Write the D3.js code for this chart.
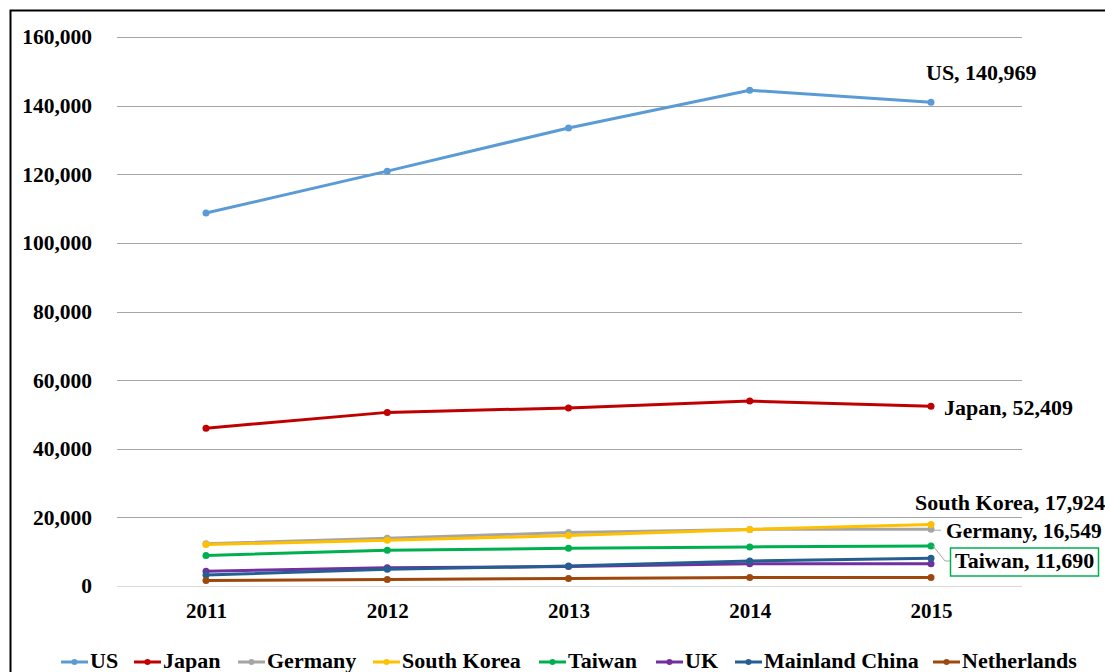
<!DOCTYPE html>
<html>
<head>
<meta charset="utf-8">
<script src="https://cdn.jsdelivr.net/npm/d3@7"></script>
<style>
  body { margin: 0; background: #fff; }
  svg text { font-family: "Liberation Serif", "Times New Roman", serif; font-weight: bold; fill: #000; }
</style>
</head>
<body>
<div id="chart"></div>
<script>
var width = 1105,
    height = 672;

var years = ["2011", "2012", "2013", "2014", "2015"];
var yTicks = [0, 20000, 40000, 60000, 80000, 100000, 120000, 140000, 160000];

var us = [108700, 120900, 133500, 144500, 140969];
var japan = [46000, 50600, 51900, 53900, 52409];
var germany = [12300, 13900, 15600, 16500, 16549];
var southKorea = [12100, 13300, 14700, 16500, 17924];
var taiwan = [8900, 10400, 11000, 11400, 11690];
var uk = [4300, 5300, 5700, 6500, 6500];
var china = [3200, 4900, 5800, 7300, 8100];
var netherlands = [1600, 1900, 2200, 2500, 2500];

var series = [
    {name: "US", color: "#5b9bd5", values: us},
    {name: "Japan", color: "#c00000", values: japan},
    {name: "Germany", color: "#a5a5a5", values: germany},
    {name: "South Korea", color: "#ffc000", values: southKorea},
    {name: "Taiwan", color: "#00b050", values: taiwan},
    {name: "UK", color: "#7030a0", values: uk},
    {name: "Mainland China", color: "#255e91", values: china},
    {name: "Netherlands", color: "#9e480e", values: netherlands}
];

var svg = d3.select("#chart").append("svg")
    .attr("width", width)
    .attr("height", height);

// outer chart border (runs off the right / bottom of the picture)
svg.append("rect")
    .attr("x", 10.5).attr("y", 10.5)
    .attr("width", 1200).attr("height", 700)
    .style("fill", "none")
    .style("stroke", "#000")
    .style("stroke-width", 2);

var x = d3.scalePoint().domain(years).range([206, 931]);
var y = d3.scaleLinear().domain([0, 160000]).range([586, 37]);

// gridlines
svg.selectAll(".grid")
    .data(yTicks)
    .enter()
    .append("line")
    .attr("x1", 117).attr("x2", 1022)
    .attr("y1", function (d) { return Math.round(y(d)) + 0.5; })
    .attr("y2", function (d) { return Math.round(y(d)) + 0.5; })
    .style("stroke", function (d) { return d === 0 ? "#d9d9d9" : "#a6a6a6"; })
    .style("stroke-width", 1);

var yAxis = svg.append("g")
    .attr("transform", "translate(97,0)")
    .call(d3.axisLeft(y).tickValues(yTicks).tickSize(0).tickPadding(5).tickFormat(d3.format(",")));
yAxis.select(".domain").remove();
yAxis.selectAll("text").attr("font-size", 21.5).style("font-family", null);

var xAxis = svg.append("g")
    .attr("transform", "translate(0,586)")
    .call(d3.axisBottom(x).tickSize(0).tickPadding(17));
xAxis.select(".domain").remove();
xAxis.selectAll("text").attr("font-size", 21).style("font-family", null);

var line = d3.line()
    .x(function (d, i) { return x(years[i]); })
    .y(function (d) { return y(d); });

// draw later series on top, like the original
series.forEach(function (s) {
    var g = svg.append("g");
    g.append("path")
        .attr("d", line(s.values))
        .style("fill", "none")
        .style("stroke", s.color)
        .style("stroke-width", 3)
        .style("stroke-linejoin", "round");
    g.selectAll("circle")
        .data(s.values)
        .enter()
        .append("circle")
        .attr("cx", function (d, i) { return x(years[i]); })
        .attr("cy", function (d) { return y(d); })
        .attr("r", 3.5)
        .style("fill", s.color);
});

// data labels at 2015
var last = x("2015");
var fmt = d3.format(",");
svg.append("text").attr("x", 926).attr("y", 80)
    .attr("font-size", 22)
    .text("US, " + fmt(us[4]));
svg.append("text").attr("x", 944).attr("y", y(japan[4]) + 9)
    .attr("font-size", 22)
    .text("Japan, " + fmt(japan[4]));
svg.append("text").attr("x", 915).attr("y", 510)
    .attr("font-size", 22)
    .text("South Korea, " + fmt(southKorea[4]));
svg.append("line")
    .attr("x1", last).attr("y1", y(germany[4]) + 1)
    .attr("x2", 941).attr("y2", y(germany[4]) + 1)
    .style("stroke", "#a6a6a6").style("stroke-width", 1);
svg.append("text").attr("x", 946).attr("y", 538)
    .attr("font-size", 21.5)
    .text("Germany, " + fmt(germany[4]));
svg.append("polyline")
    .attr("points", [[last + 2, y(taiwan[4])], [945, 561], [950, 561]].join(" "))
    .style("fill", "none").style("stroke", "#a6a6a6").style("stroke-width", 1);
svg.append("rect")
    .attr("x", 950.5).attr("y", 548)
    .attr("width", 148).attr("height", 28)
    .style("fill", "#fff").style("stroke", "#00b050").style("stroke-width", 1.5);
svg.append("text").attr("x", 955).attr("y", 568)
    .attr("font-size", 22)
    .text("Taiwan, " + fmt(taiwan[4]));

// legend
var legendX = [61, 134, 238, 373, 539, 656, 735, 933];
var legend = svg.selectAll(".legend")
    .data(series)
    .enter()
    .append("g")
    .attr("transform", function (d, i) { return "translate(" + legendX[i] + ",662)"; });
legend.append("line")
    .attr("x1", 0).attr("x2", 27).attr("y1", 0).attr("y2", 0)
    .style("stroke", function (d) { return d.color; })
    .style("stroke-width", 3);
legend.append("circle")
    .attr("cx", 13.5).attr("cy", 0).attr("r", 3)
    .style("fill", function (d) { return d.color; });
legend.append("text")
    .attr("x", 29).attr("y", 6)
    .attr("font-size", 22)
    .text(function (d) { return d.name; });
</script>
</body>
</html>
